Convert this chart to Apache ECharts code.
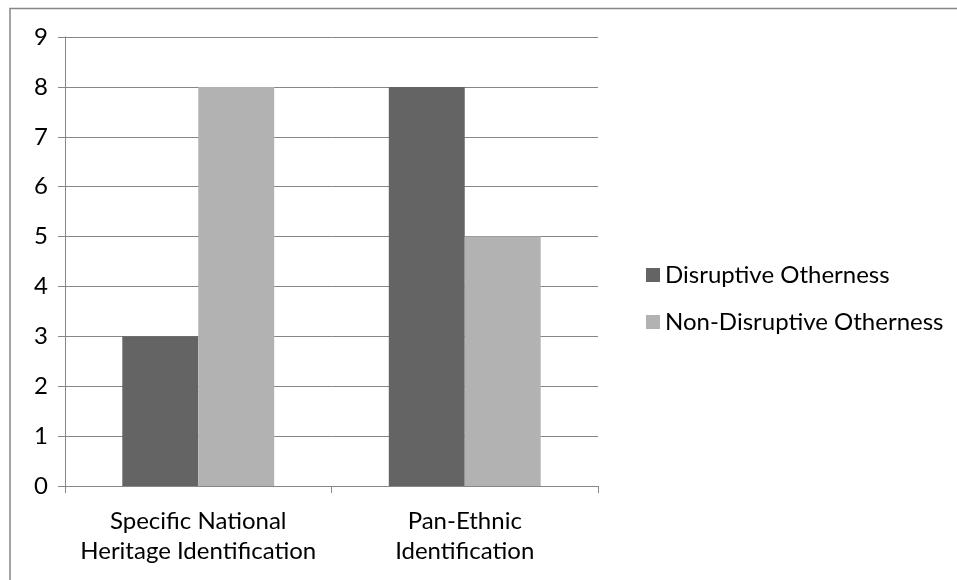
<!DOCTYPE html>
<html>
<head>
<meta charset="utf-8">
<script src="https://cdn.jsdelivr.net/npm/echarts@6/dist/echarts.min.js"></script>
<style>
  html, body { margin: 0; padding: 0; background: #fff; }
  #chart { width: 957px; height: 580px; }
</style>
</head>
<body>
<div id="chart"></div>
<script>
// chart data
var categories = ['Specific National\nHeritage Identification', 'Pan-Ethnic\nIdentification'];
var disruptive = [3, 8];
var nonDisruptive = [8, 5];
var seriesNames = ['Disruptive Otherness', 'Non-Disruptive Otherness'];

var font = 'Lato';
var chart = echarts.init(document.getElementById('chart'));

var option = {
  animation: false,
  textStyle: { fontFamily: font },
  graphic: [{
    type: 'rect',
    shape: { x: 10, y: 8.5, width: 960, height: 590 },
    style: { fill: 'none', stroke: '#868686', lineWidth: 1.5 },
    silent: true
  }],
  grid: { left: 65, top: 37, right: 359, bottom: 94 },
  legend: {
    orient: 'vertical',
    left: 641,
    top: 258,
    itemWidth: 14,
    itemHeight: 14,
    itemGap: 23,
    icon: 'rect',
    textStyle: { fontSize: 24, color: '#000', fontFamily: font },
    data: seriesNames
  },
  xAxis: {
    type: 'category',
    data: categories,
    axisLine: { lineStyle: { color: '#868686', width: 1 } },
    axisTick: { show: true, length: 7, lineStyle: { color: '#868686' } },
    axisLabel: { interval: 0, color: '#000', fontSize: 24, lineHeight: 30, margin: 20, fontFamily: font }
  },
  yAxis: {
    type: 'value',
    min: 0,
    max: 9,
    interval: 1,
    axisLine: { show: true, lineStyle: { color: '#868686', width: 1 } },
    axisTick: { show: true, length: 7, lineStyle: { color: '#868686' } },
    axisLabel: { color: '#000', fontSize: 24, margin: 17, fontFamily: font },
    splitLine: { lineStyle: { color: '#868686', width: 1 } }
  },
  series: [{
    name: seriesNames[0],
    type: 'bar',
    data: disruptive,
    barGap: '0%',
    barCategoryGap: '43%',
    itemStyle: { color: '#646464' }
  }, {
    name: seriesNames[1],
    type: 'bar',
    data: nonDisruptive,
    itemStyle: { color: '#b2b2b2' }
  }]
};

chart.setOption(option);
</script>
</body>
</html>
